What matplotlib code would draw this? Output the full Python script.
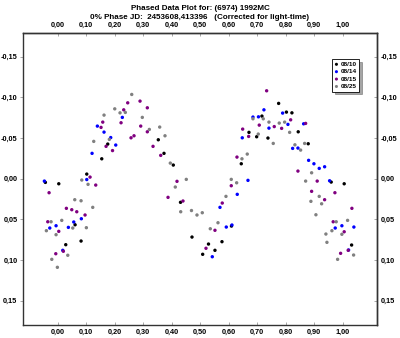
import matplotlib
matplotlib.use("Agg")
import matplotlib.pyplot as plt
from matplotlib.ticker import FuncFormatter


# =========================
# 1. Data (phase, delta mag) per night
# =========================
sessions = ["08/10", "08/14", "08/15", "08/25"]
colors = ["#000000", "#0000ff", "#800080", "#808080"]

phase_0810 = [-0.0435, 0.0035, 0.028, 0.0607, 0.0817, 0.1017, 0.1543, 0.1753,
              0.3527, 0.3727, 0.4053, 0.4306, 0.4709, 0.5084, 0.5288, 0.5515,
              0.5761, 0.6094, 0.6438, 0.6708, 0.6978, 0.7163, 0.7374, 0.7749,
              0.8022, 0.8215, 0.8436, 0.8787, 0.9593, 1.0049, 1.0309]
mag_0810 = [0.0047, 0.0064, 0.0813, 0.0568, 0.0768, -0.0055, -0.0243, -0.0424,
            -0.0477, -0.031, -0.0166, 0.0292, 0.0719, 0.0931, 0.0805, 0.0882,
            0.0776, 0.0584, -0.0182, -0.0568, -0.0514, -0.0768, -0.0498, -0.0924,
            -0.0817, -0.0808, -0.0575, -0.0428, 0.0043, 0.0064, 0.0817]

phase_0814 = [-0.047, -0.028, -0.006, 0.0175, 0.0372, 0.0561, 0.0827, 0.1017,
              0.1203, 0.1389, 0.1623, 0.1858, 0.2034, 0.2265, 0.5421, 0.5691,
              0.5912, 0.6111, 0.6297, 0.6473, 0.6673, 0.6848, 0.7041, 0.7233,
              0.7409, 0.7889, 0.8075, 0.824, 0.8426, 0.8626, 0.8801, 0.8987,
              0.9173, 0.9362, 0.9537, 0.9734, 0.9968, 1.0203, 1.0389]
mag_0814 = [0.0031, 0.0608, 0.058, 0.0882, 0.06, 0.0534, 0.0494, 0.0012,
            -0.031, -0.0645, -0.0571, -0.0504, -0.0412, -0.0752, 0.0961, 0.0354,
            0.0596, 0.0571, 0.0194, -0.0501, 0.0022, -0.0756, -0.0759, -0.0845,
            -0.062, -0.0805, -0.0666, -0.0371, -0.0375, -0.0673, -0.0224, -0.0182,
            -0.0125, -0.0145, 0.0027, 0.0608, 0.058, 0.0878, 0.0596]

phase_0815 = [-0.0351, -0.0305, -0.007, 0.0035, 0.0196, 0.0302, 0.0491, 0.0666,
              0.0957, 0.1133, 0.1332, 0.1518, 0.1578, 0.1694, 0.1921, 0.222,
              0.2314, 0.2454, 0.257, 0.2675, 0.2886, 0.291, 0.3142, 0.3142,
              0.3342, 0.3612, 0.3868, 0.4183, 0.4393, 0.52, 0.5515, 0.5771,
              0.6087, 0.6287, 0.6487, 0.6697, 0.7069, 0.7328, 0.7595, 0.7854,
              0.817, 0.8696, 0.8426, 0.8906, 0.9102, 0.9362, 0.9663, 0.9723,
              0.9923, 1.0049, 1.0189, 1.0319]
mag_0815 = [0.0531, 0.0174, 0.0924, 0.0649, 0.0894, 0.0366, 0.0383, 0.0408,
            0.0448, -0.0018, 0.008, -0.0629, -0.0694, -0.0396, -0.0344, -0.0686,
            -0.0845, -0.0931, -0.0501, -0.0526, -0.0952, -0.0645, -0.087, -0.0575,
            -0.0396, -0.0285, 0.0231, 0.0034, 0.0276, 0.0857, 0.0636, 0.0301,
            0.0088, -0.0264, -0.0608, -0.0518, -0.0657, -0.1079, -0.0639, -0.0617,
            -0.0722, -0.0678, -0.0092, 0.0157, 0.0031, 0.026, 0.0531, 0.0174,
            0.0919, 0.0654, 0.0882, 0.0366]

phase_0825 = [-0.04, -0.0235, -0.021, -0.006, -0.0014, 0.014, 0.0351, 0.0526,
              0.0596, 0.0817, 0.0842, 0.1003, 0.1062, 0.1227, 0.1262, 0.1623,
              0.1809, 0.1999, 0.2184, 0.237, 0.2595, 0.2966, 0.3212, 0.3576,
              0.3762, 0.3948, 0.4123, 0.4313, 0.4509, 0.4691, 0.4884, 0.507,
              0.5351, 0.5621, 0.5901, 0.6087, 0.6276, 0.6462, 0.6648, 0.6848,
              0.7034, 0.7209, 0.7409, 0.756, 0.777, 0.7959, 0.8135, 0.832,
              0.852, 0.8661, 0.8696, 0.8881, 0.8906, 0.9057, 0.9173, 0.9257,
              0.9407, 0.9443, 0.9618, 0.9769, 0.9818, 0.9968, 1.0168, 1.0379]
mag_0825 = [0.0641, 0.0531, 0.0993, 0.069, 0.1091, 0.0514, 0.0943, 0.0608,
            0.026, 0.0273, 0.0018, 0.0604, 0.0071, 0.0354, -0.0457, -0.078,
            -0.0482, -0.0857, -0.0808, -0.0813, -0.1034, -0.0752, -0.0604, -0.0633,
            -0.0526, -0.019, 0.0104, 0.0408, 0.001, 0.0393, 0.0448, 0.042,
            0.0617, 0.0543, 0.0219, 0.001, 0.0052, -0.0243, -0.0301, -0.0735,
            -0.0547, -0.0735, -0.0694, -0.0432, -0.0682, -0.0694, -0.0568, -0.0415,
            -0.035, -0.0432, 0.0031, 0.028, -0.0071, 0.0445, 0.0219, 0.031,
            0.0682, 0.0784, 0.0641, 0.0531, 0.0993, 0.0685, 0.0514, 0.094]

phases = [phase_0810, phase_0814, phase_0815, phase_0825]
mags = [mag_0810, mag_0814, mag_0815, mag_0825]

x_ticks = [0.0, 0.1, 0.2, 0.3, 0.4, 0.5, 0.6, 0.7, 0.8, 0.9, 1.0]
y_ticks = [-0.15, -0.10, -0.05, 0.0, 0.05, 0.10, 0.15]

title_1 = "Phased Data Plot for: (6974) 1992MC"
title_2 = "0% Phase JD:  2453608,413396   (Corrected for light-time)"


# =========================
# 2. Figure
# =========================
plt.rcParams["font.family"] = ["Liberation Sans", "DejaVu Sans"]
plt.rcParams["font.weight"] = "bold"

fig = plt.figure(figsize=(4.0, 3.38), dpi=100)
ax = fig.add_axes([0.0575, 0.0385, 0.885, 0.864])

for ph, mg, c, lab in zip(phases, mags, colors, sessions):
    ax.scatter(ph, mg, s=6, color=c, edgecolors="none", label=lab, zorder=3)

ax.set_xlim(-0.122, 1.12)
ax.set_ylim(0.18, -0.179)

# comma as decimal separator
comma = FuncFormatter(lambda v, p: f"{v:.2f}".replace(".", ",").replace("-0,00", "0,00"))

ax.set_xticks(x_ticks)
ax.set_yticks(y_ticks)
ax.xaxis.set_major_formatter(comma)
ax.yaxis.set_major_formatter(comma)
ax.tick_params(axis="x", direction="in", length=2.5, width=0.6, labelsize=5.3, pad=3,
               color="#999999")
ax.tick_params(axis="y", direction="out", length=2.5, width=0.6, labelsize=5.3, pad=1.5,
               color="#999999")

top = ax.secondary_xaxis("top")
top.set_xticks(x_ticks)
top.xaxis.set_major_formatter(comma)
top.tick_params(direction="in", length=2.5, width=0.6, labelsize=5.3, pad=3, color="#999999")

right = ax.secondary_yaxis("right")
right.set_yticks(y_ticks)
right.yaxis.set_major_formatter(comma)
right.tick_params(direction="in", length=2.5, width=0.6, labelsize=5.3, pad=3, color="#999999")

for a in (ax, top, right):
    for sp in a.spines.values():
        sp.set_linewidth(1.0)
        sp.set_color("#333333")

leg = ax.legend(loc="upper right", bbox_to_anchor=(0.949, 0.911), fontsize=4.6,
                frameon=True, fancybox=False, shadow=True, handlelength=0.6,
                handletextpad=0.3, borderpad=0.4, labelspacing=0.3,
                markerscale=0.9, borderaxespad=0)
leg.get_frame().set_edgecolor("#000000")
leg.get_frame().set_linewidth(0.6)

fig.text(0.5, 0.975, title_1, ha="center", va="center", fontsize=5.8, fontweight="bold")
fig.text(0.5, 0.948, title_2, ha="center", va="center", fontsize=5.8, fontweight="bold")

plt.savefig("out.png", dpi=100)
plt.close()
